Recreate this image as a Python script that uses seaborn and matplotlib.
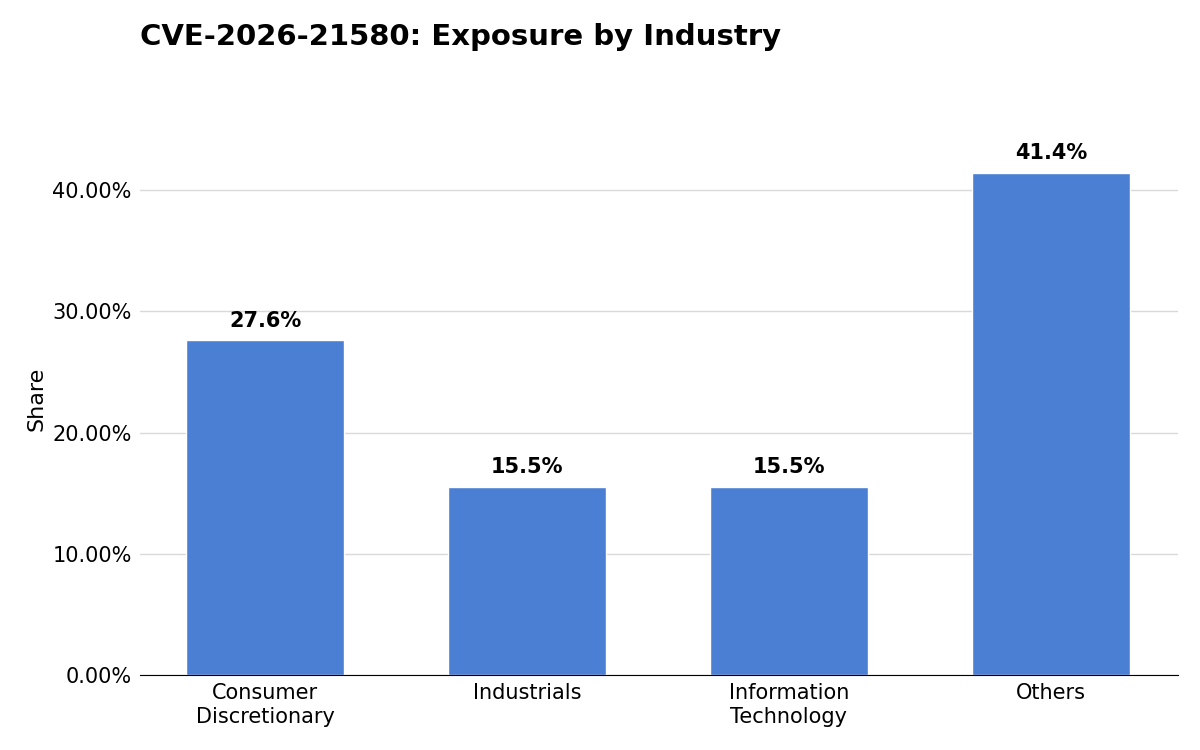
import matplotlib
matplotlib.use('Agg')
import matplotlib.pyplot as plt
import matplotlib.ticker as mtick
import seaborn as sns
import pandas as pd

industries = ['Consumer\nDiscretionary', 'Industrials', 'Information\nTechnology', 'Others']
shares = [27.6, 15.5, 15.5, 41.4]

df = pd.DataFrame({'industry': industries, 'share': shares})

sns.set_style('white')
plt.rcParams['font.family'] = ['DejaVu Sans']
plt.rcParams['text.color'] = 'black'
plt.rcParams['axes.labelcolor'] = 'black'
plt.rcParams['xtick.color'] = 'black'
plt.rcParams['ytick.color'] = 'black'

fig = plt.figure(figsize=(12, 7.5), dpi=100)
ax = fig.add_axes([0.1167, 0.1, 0.865, 0.736])

sns.barplot(data=df, x='industry', y='share', color='#4a7fd4', width=0.6, saturation=1, ax=ax)

for i, v in enumerate(shares):
    ax.text(i, v + 0.8, f'{v}%', ha='center', va='bottom', fontsize=15, fontweight='bold')

ax.set_ylim(0, max(shares) * 1.1)
ax.yaxis.set_major_locator(mtick.MultipleLocator(10))
ax.yaxis.set_major_formatter(mtick.FuncFormatter(lambda y, _: f'{y:.2f}%'))
ax.grid(axis='y', color='#d9d9d9', linewidth=1)
ax.set_axisbelow(True)
for s in ['top', 'right', 'left']:
    ax.spines[s].set_visible(False)
ax.spines['bottom'].set_color('black')
ax.tick_params(axis='both', labelsize=15, length=0, pad=6)
ax.set_xlabel('')
ax.set_ylabel('Share', fontsize=16)
ax.set_xlim(-0.477, 3.485)

fig.text(0.1167, 0.951, 'CVE-2026-21580: Exposure by Industry', fontsize=21, fontweight='bold', ha='left', va='center')

fig.savefig('out.png', dpi=100)
